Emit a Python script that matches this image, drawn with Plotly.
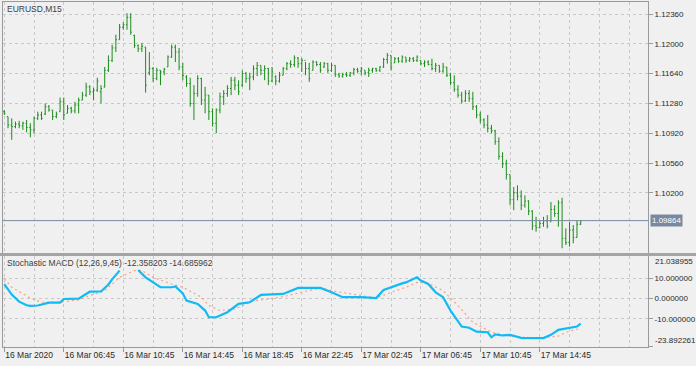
import plotly.graph_objects as go

# ---------------- data ----------------
bar_open = [
    1.1118, 1.1112, 1.1102, 1.1100, 1.1103, 1.1101, 1.1104, 1.1099, 1.1096, 1.1110,
    1.1114, 1.1115, 1.1124, 1.1120, 1.1112, 1.1118, 1.1130, 1.1116, 1.1122, 1.1119,
    1.1126, 1.1132, 1.1138, 1.1148, 1.1142, 1.1144, 1.1142, 1.1148, 1.1168, 1.1180,
    1.1195, 1.1205, 1.1220, 1.1223, 1.1232, 1.1210, 1.1198, 1.1194, 1.1196, 1.1165,
    1.1170, 1.1158, 1.1168, 1.1166, 1.1172, 1.1184, 1.1196, 1.1190, 1.1172, 1.1160,
    1.1152, 1.1128, 1.1140, 1.1158, 1.1132, 1.1138, 1.1118, 1.1104, 1.1120, 1.1136,
    1.1140, 1.1146, 1.1156, 1.1150, 1.1150, 1.1164, 1.1158, 1.1160, 1.1170, 1.1174,
    1.1168, 1.1170, 1.1155, 1.1160, 1.1155, 1.1162, 1.1170, 1.1176, 1.1175, 1.1183,
    1.1176, 1.1180, 1.1170, 1.1168, 1.1178, 1.1175, 1.1172, 1.1176, 1.1168, 1.1174,
    1.1163, 1.1161, 1.1163, 1.1162, 1.1165, 1.1169, 1.1167, 1.1168, 1.1165, 1.1168,
    1.1170, 1.1168, 1.1172, 1.1181, 1.1186, 1.1177, 1.1182, 1.1179, 1.1184, 1.1180,
    1.1182, 1.1180, 1.1180, 1.1176, 1.1178, 1.1175, 1.1170, 1.1174, 1.1167, 1.1172,
    1.1162, 1.1153, 1.1145, 1.1138, 1.1131, 1.1140, 1.1134, 1.1124, 1.1114, 1.1108,
    1.1102, 1.1098, 1.1095, 1.1082, 1.1064, 1.1055, 1.1042, 1.1012, 1.1020, 1.1016,
    1.1005, 1.1010, 1.0998, 1.0980, 1.0978, 1.0983, 1.0986, 1.0985, 1.1000, 1.0995,
    1.1008, 1.0965, 1.0960, 1.0975, 1.0966, 1.0982,
]
bar_high = [
    1.1120, 1.1112, 1.1110, 1.1106, 1.1107, 1.1106, 1.1108, 1.1104, 1.1112, 1.1118,
    1.1118, 1.1128, 1.1126, 1.1120, 1.1118, 1.1135, 1.1135, 1.1126, 1.1124, 1.1130,
    1.1135, 1.1142, 1.1153, 1.1150, 1.1147, 1.1159, 1.1150, 1.1172, 1.1186, 1.1199,
    1.1211, 1.1224, 1.1226, 1.1237, 1.1237, 1.1211, 1.1199, 1.1201, 1.1196, 1.1190,
    1.1172, 1.1171, 1.1168, 1.1171, 1.1186, 1.1199, 1.1199, 1.1195, 1.1177, 1.1162,
    1.1159, 1.1150, 1.1162, 1.1159, 1.1148, 1.1138, 1.1122, 1.1122, 1.1141, 1.1144,
    1.1150, 1.1160, 1.1160, 1.1156, 1.1168, 1.1166, 1.1165, 1.1174, 1.1178, 1.1174,
    1.1174, 1.1171, 1.1172, 1.1162, 1.1166, 1.1172, 1.1178, 1.1180, 1.1186, 1.1184,
    1.1183, 1.1178, 1.1177, 1.1180, 1.1179, 1.1178, 1.1178, 1.1177, 1.1177, 1.1174,
    1.1165, 1.1165, 1.1166, 1.1166, 1.1171, 1.1171, 1.1172, 1.1168, 1.1171, 1.1171,
    1.1171, 1.1173, 1.1183, 1.1189, 1.1186, 1.1184, 1.1184, 1.1186, 1.1184, 1.1184,
    1.1184, 1.1186, 1.1180, 1.1180, 1.1180, 1.1182, 1.1177, 1.1174, 1.1177, 1.1172,
    1.1165, 1.1162, 1.1150, 1.1142, 1.1144, 1.1144, 1.1142, 1.1126, 1.1118, 1.1110,
    1.1114, 1.1102, 1.1096, 1.1087, 1.1069, 1.1060, 1.1042, 1.1027, 1.1029, 1.1023,
    1.1017, 1.1011, 1.0999, 1.0991, 1.0987, 1.0991, 1.0993, 1.1009, 1.1005, 1.1011,
    1.1014, 1.0977, 1.0985, 1.0981, 1.0986, 1.0987,
]
bar_low = [
    1.1114, 1.1098, 1.1084, 1.1098, 1.1098, 1.1096, 1.1093, 1.1087, 1.1092, 1.1108,
    1.1108, 1.1114, 1.1118, 1.1108, 1.1110, 1.1118, 1.1108, 1.1116, 1.1116, 1.1116,
    1.1116, 1.1132, 1.1136, 1.1138, 1.1132, 1.1142, 1.1128, 1.1147, 1.1166, 1.1178,
    1.1190, 1.1205, 1.1217, 1.1217, 1.1211, 1.1195, 1.1190, 1.1190, 1.1141, 1.1162,
    1.1154, 1.1156, 1.1150, 1.1162, 1.1172, 1.1183, 1.1178, 1.1168, 1.1156, 1.1148,
    1.1124, 1.1108, 1.1136, 1.1126, 1.1116, 1.1108, 1.1100, 1.1092, 1.1116, 1.1126,
    1.1136, 1.1138, 1.1144, 1.1138, 1.1148, 1.1153, 1.1144, 1.1156, 1.1161, 1.1162,
    1.1156, 1.1150, 1.1154, 1.1150, 1.1153, 1.1162, 1.1168, 1.1171, 1.1172, 1.1171,
    1.1166, 1.1162, 1.1154, 1.1168, 1.1173, 1.1165, 1.1171, 1.1165, 1.1166, 1.1160,
    1.1159, 1.1159, 1.1160, 1.1160, 1.1162, 1.1165, 1.1162, 1.1162, 1.1160, 1.1165,
    1.1166, 1.1166, 1.1171, 1.1176, 1.1168, 1.1177, 1.1177, 1.1177, 1.1177, 1.1178,
    1.1178, 1.1178, 1.1174, 1.1172, 1.1174, 1.1168, 1.1166, 1.1165, 1.1165, 1.1160,
    1.1150, 1.1142, 1.1135, 1.1128, 1.1130, 1.1130, 1.1120, 1.1110, 1.1104, 1.1098,
    1.1093, 1.1092, 1.1078, 1.1060, 1.1050, 1.1036, 1.1005, 1.0999, 1.1011, 1.0999,
    1.1002, 1.0993, 1.0975, 1.0973, 1.0977, 1.0979, 1.0977, 1.0985, 1.0991, 1.0979,
    1.0953, 1.0957, 1.0955, 1.0959, 1.0966, 1.0981,
]
bar_close = [
    1.1116, 1.1102, 1.1100, 1.1103, 1.1101, 1.1104, 1.1099, 1.1096, 1.1110, 1.1114,
    1.1110, 1.1124, 1.1120, 1.1112, 1.1115, 1.1130, 1.1114, 1.1122, 1.1119, 1.1126,
    1.1132, 1.1138, 1.1148, 1.1142, 1.1144, 1.1155, 1.1146, 1.1168, 1.1180, 1.1195,
    1.1205, 1.1220, 1.1223, 1.1232, 1.1214, 1.1198, 1.1194, 1.1197, 1.1150, 1.1170,
    1.1158, 1.1168, 1.1166, 1.1169, 1.1184, 1.1196, 1.1190, 1.1172, 1.1162, 1.1152,
    1.1128, 1.1140, 1.1158, 1.1132, 1.1138, 1.1118, 1.1104, 1.1120, 1.1136, 1.1140,
    1.1146, 1.1156, 1.1150, 1.1142, 1.1164, 1.1158, 1.1160, 1.1170, 1.1174, 1.1168,
    1.1170, 1.1155, 1.1166, 1.1155, 1.1162, 1.1170, 1.1176, 1.1175, 1.1183, 1.1176,
    1.1180, 1.1170, 1.1158, 1.1178, 1.1175, 1.1168, 1.1176, 1.1168, 1.1174, 1.1163,
    1.1161, 1.1163, 1.1162, 1.1165, 1.1169, 1.1167, 1.1170, 1.1165, 1.1168, 1.1170,
    1.1168, 1.1172, 1.1181, 1.1186, 1.1172, 1.1182, 1.1179, 1.1184, 1.1180, 1.1182,
    1.1180, 1.1184, 1.1176, 1.1178, 1.1175, 1.1170, 1.1174, 1.1167, 1.1172, 1.1162,
    1.1153, 1.1145, 1.1138, 1.1131, 1.1140, 1.1134, 1.1124, 1.1114, 1.1108, 1.1102,
    1.1098, 1.1095, 1.1082, 1.1064, 1.1055, 1.1042, 1.1012, 1.1020, 1.1016, 1.1005,
    1.1010, 1.0998, 1.0980, 1.0978, 1.0983, 1.0986, 1.0980, 1.1000, 1.0995, 1.1008,
    1.0965, 1.0960, 1.0975, 1.0966, 1.0982, 1.09864,
]
bar_index = list(range(len(bar_open)))

tick_index = [0, 16, 32, 48, 64, 80, 96, 112, 128, 144]
tick_labels = ["16 Mar 2020", "16 Mar 06:45", "16 Mar 10:45", "16 Mar 14:45",
               "16 Mar 18:45", "16 Mar 22:45", "17 Mar 02:45", "17 Mar 06:45",
               "17 Mar 10:45", "17 Mar 14:45"]

price_ticks = [1.12360, 1.12000, 1.11640, 1.11280, 1.10920, 1.10560, 1.10200]
last_price = 1.09864

macd_index = [0, 2, 4, 6, 7, 9, 12, 15, 16, 20, 23, 26, 28, 29, 31, 32,
              36, 38, 42, 45, 46, 48, 49, 52, 54, 55, 57, 60, 63, 66, 69,
              75, 79, 85, 88, 91, 96, 100, 102, 105, 107, 108, 111, 112,
              114, 116, 118, 120, 122, 123, 125, 127, 130, 131, 132, 134,
              136, 139, 145, 147, 149, 152, 154, 155]
macd_values = [7.2, 2.0, -1.5, -3.3, -3.6, -3.4, -2.0, -2.0, -0.2, 0.0, 3.4, 3.5, 7.0, 9.5, 13.8, None,
               14.1, 10.5, 5.6, 5.6, 6.0, 2.6, -1.0, -2.6, -5.9, -9.2, -9.2, -6.7, -2.6, -1.8, 1.8,
               2.3, 5.3, 5.3, 3.1, 0.7, 0.7, 0.3, 4.3, 6.4, 7.5, 8.0, 10.5, 8.9,
               7.2, 3.1, 0.7, -5.9, -10.8, -13.8, -14.4, -16.3, -16.6, -19.1, -17.7, -18.2,
               -17.9, -19.4, -19.5, -17.9, -15.4, -14.6, -13.8, -12.358203]

signal_index = [0, 2, 7, 10, 15, 20, 23, 27, 31, 35, 37, 40, 45, 48, 53, 55, 58,
                62, 67, 71, 75, 80, 85, 88, 93, 96, 100, 104, 108, 111, 114, 118,
                122, 126, 131, 135, 140, 144, 149, 152, 155]
signal_values = [9.7, 5.6, 0.3, -1.8, -1.8, -0.6, 1.5, 3.9, 10.5, 13.8, 13.8, 10.5, 7.2, 5.6, 0.7, -3.4, -5.9,
                 -5.1, -1.0, -0.2, 1.0, 3.1, 5.3, 3.9, 2.3, 1.5, 0.3, 3.1, 5.6, 8.0, 7.5, 3.9,
                 -3.4, -11.7, -16.6, -18.2, -19.1, -19.4, -18.5, -16.0, -14.685962]

osc_ticks = [21.038955, 10.0, 0.0, -10.0, -23.892261]
osc_range = [-23.892261, 21.038955]
price_range = [1.09473, 1.12505]

# ---------------- styling ----------------
BG = "#f0f0f0"
GRID = "#c8c8c8"
FRAME = "#9a9a9a"
TXT = "#2a2a2a"
FONT = "Liberation Sans, Arial, sans-serif"
BAR = "#1a8c1a"

fig = go.Figure()

fig.add_trace(go.Ohlc(
    x=bar_index, open=bar_open, high=bar_high, low=bar_low, close=bar_close,
    increasing=dict(line=dict(color=BAR, width=1)),
    decreasing=dict(line=dict(color=BAR, width=1)),
    tickwidth=0.3, xaxis="x", yaxis="y", hoverinfo="skip",
))

fig.add_trace(go.Scatter(
    x=signal_index, y=signal_values, mode="lines",
    line=dict(color="#f8a07c", width=1.2, dash="2px,3px"),
    xaxis="x2", yaxis="y2", hoverinfo="skip",
))
fig.add_trace(go.Scatter(
    x=macd_index, y=macd_values, mode="lines", connectgaps=False,
    line=dict(color="#10bbf5", width=2.2),
    xaxis="x2", yaxis="y2", hoverinfo="skip",
))

grid_common = dict(showgrid=True, gridcolor=GRID, gridwidth=1, griddash="3px,3px",
                   zeroline=False, showline=True, mirror=True, linecolor=FRAME, linewidth=1,
                   automargin=False)

main_bottom = 0.2725
sub_top = 0.2638

fig.update_layout(
    width=696, height=366,
    margin=dict(l=3, r=48, t=2, b=19),
    paper_bgcolor=BG, plot_bgcolor=BG,
    showlegend=False,
    font=dict(family=FONT, size=8, color=TXT),
    xaxis=dict(
        domain=[0, 1], anchor="y", range=[-0.35, 173.1],
        rangeslider=dict(visible=False),
        tickmode="array", tickvals=tick_index, showticklabels=False, ticks="",
        minor=dict(dtick=8, tick0=0, showgrid=True, gridcolor=GRID, griddash="3px,3px", ticks=""),
        **grid_common,
    ),
    xaxis2=dict(
        domain=[0, 1], anchor="y2", matches="x", range=[-0.35, 173.1],
        tickmode="array", tickvals=tick_index, ticktext=tick_labels,
        ticks="outside", ticklen=4, tickcolor=FRAME, tickangle=0,
        ticklabelposition="outside right",
        tickfont=dict(family=FONT, size=8.5, color=TXT),
        minor=dict(dtick=8, tick0=0, showgrid=True, gridcolor=GRID, griddash="3px,3px", ticks=""),
        **grid_common,
    ),
    yaxis=dict(
        domain=[main_bottom, 1], anchor="x", side="right", range=price_range,
        tickmode="array", tickvals=price_ticks, ticktext=[f"{v:.5f}" for v in price_ticks],
        ticks="outside", ticklen=4, tickcolor=FRAME,
        tickfont=dict(family=FONT, size=8, color=TXT),
        **grid_common,
    ),
    yaxis2=dict(
        domain=[0, sub_top], anchor="x2", side="right", range=osc_range,
        tickmode="array", tickvals=osc_ticks,
        ticktext=["", "10.000000", "0.000000", "-10.000000", ""],
        ticks="outside", ticklen=4, tickcolor=FRAME,
        tickfont=dict(family=FONT, size=8, color=TXT),
        **grid_common,
    ),
)

# pane separator
fig.add_shape(type="rect", xref="paper", yref="paper", x0=-0.01, x1=1.08,
              y0=sub_top, y1=main_bottom, fillcolor="#a4a4a4", line=dict(width=0), layer="above")

# last price line
fig.add_shape(type="line", xref="x domain", yref="y", x0=0, x1=1, y0=last_price, y1=last_price,
              line=dict(color="#7889a0", width=1), layer="above")

fig.add_annotation(xref="paper", yref="y", x=1, y=last_price, xanchor="left", yanchor="middle",
                   xshift=2, text=f"{last_price:.5f}", showarrow=False,
                   bgcolor="#7889a0", borderpad=1,
                   font=dict(family=FONT, size=8, color="#ffffff"))

# extreme oscillator labels, kept inside the pane like the terminal does
fig.add_annotation(xref="paper", yref="y2", x=1, y=osc_ticks[0], xanchor="left", yanchor="top",
                   xshift=5, yshift=1, text=f"{osc_ticks[0]:.6f}", showarrow=False,
                   font=dict(family=FONT, size=8, color=TXT))
fig.add_annotation(xref="paper", yref="y2", x=1, y=osc_ticks[-1], xanchor="left", yanchor="bottom",
                   xshift=5, yshift=0, text=f"{osc_ticks[-1]:.6f}", showarrow=False,
                   font=dict(family=FONT, size=8, color=TXT))

# titles
fig.add_annotation(xref="paper", yref="paper", x=0.003, y=0.98, xanchor="left", yanchor="middle",
                   text="EURUSD,M15", showarrow=False,
                   font=dict(family=FONT, size=8.5, color="#404040"))
fig.add_annotation(xref="paper", yref="paper", x=0.003, y=0.2435, xanchor="left", yanchor="middle",
                   text=f"Stochastic MACD (12,26,9,45) {macd_values[-1]:.6f} {signal_values[-1]:.6f}",
                   showarrow=False, font=dict(family=FONT, size=8.5, color="#404040"))

fig.write_html("out.html")
